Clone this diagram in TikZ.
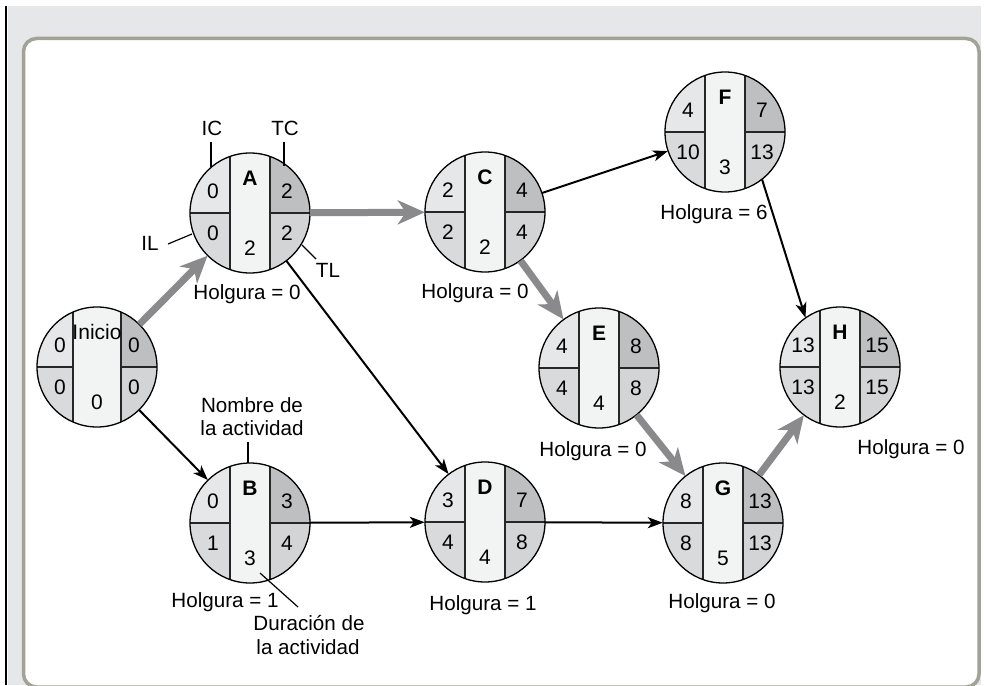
\documentclass[tikz,border=0pt]{standalone}
\usepackage{fontspec}
\setmainfont{Liberation Sans}
\usetikzlibrary{arrows.meta}
\definecolor{bggray}{RGB}{230,231,232}
\definecolor{framecol}{RGB}{162,162,150}
\definecolor{qIC}{RGB}{230,231,232}
\definecolor{qIL}{RGB}{217,218,219}
\definecolor{qTC}{RGB}{190,191,193}
\definecolor{qTL}{RGB}{211,212,213}
\definecolor{qband}{RGB}{242,243,243}
\definecolor{critgray}{RGB}{138,138,140}
\tikzset{
  actcirc/.style={circle, minimum size=120pt, inner sep=0pt, draw=none},
  num/.style={inner sep=0pt, font=\fontsize{21}{25}\selectfont},
  lbl/.style={inner sep=0pt, anchor=base, font=\fontsize{20.6}{24}\selectfont},
  crit/.style={draw=critgray, line width=7pt, -{Stealth[length=27pt,width=24pt,inset=8pt]}},
  norm/.style={draw=black, line width=2pt, -{Stealth[length=15pt,width=11pt,inset=4pt]}},
  divline/.style={draw=black!85, line width=1.2pt},
  leader/.style={draw=black, line width=1.2pt},
}
% #1 name, #2 position, #3 label, #4 IC, #5 TC, #6 IL, #7 TL, #8 duration, #9 half band width
\newcommand\actnode[9]{%
  \node[actcirc] (#1) at (#2) {};
  \begin{scope}[shift={(#2)}]
    \begin{scope}
      \clip (0,0) circle (60pt);
      \fill[qIC] (-60,-60) rectangle (0,0);
      \fill[qIL] (-60,0) rectangle (0,60);
      \fill[qTC] (0,-60) rectangle (60,0);
      \fill[qTL] (0,0) rectangle (60,60);
      \fill[qband] (-#9,-60) rectangle (#9,60);
      \draw[divline] (-#9,-60) -- (-#9,60) (#9,-60) -- (#9,60)
                     (-60,0) -- (-#9,0) (#9,0) -- (60,0);
    \end{scope}
    \draw[line width=1.3pt] (0,0) circle (60pt);
    \node[num] (#1-name) at (0,-35) {#3};
    \node[num] (#1-ic) at (-37,-22) {#4};
    \node[num] (#1-tc) at (37,-22) {#5};
    \node[num] (#1-il) at (-37,20) {#6};
    \node[num] (#1-tl) at (37,20) {#7};
    \node[num] (#1-dur) at (0,35) {#8};
  \end{scope}
}
\begin{document}
\begin{tikzpicture}[x=1pt,y=-1pt]
\useasboundingbox (0,0) rectangle (984,685);
\clip (0,0) rectangle (984,685);
% background
\fill[bggray] (8,6) rectangle (981,685);
\draw[black, line width=2.2pt] (6.2,6) -- (6.2,685);
\draw[framecol, line width=3.5pt, rounded corners=13pt, fill=white] (23.5,38.5) rectangle (979,687);

% activity nodes
\actnode{Inicio}{97,367}{Inicio}{0}{0}{0}{0}{0}{24}
\actnode{A}{250,213}{\textbf{A}}{0}{2}{0}{2}{2}{20}
\actnode{B}{250,523}{\textbf{B}}{0}{3}{1}{4}{3}{20}
\actnode{C}{485,212}{\textbf{C}}{2}{4}{2}{4}{2}{20}
\actnode{D}{485,522}{\textbf{D}}{3}{7}{4}{8}{4}{20}
\actnode{E}{599,368}{\textbf{E}}{4}{8}{4}{8}{4}{20}
\actnode{F}{725,132}{\textbf{F}}{4}{7}{10}{13}{3}{20}
\actnode{G}{723,523}{\textbf{G}}{8}{13}{8}{13}{5}{20}
\actnode{H}{840,367}{\textbf{H}}{13}{15}{13}{15}{2}{20}

% connectors
\draw[norm] (Inicio) -- (B);
\draw[norm] (A) -- (D);
\draw[norm] (B) -- (D);
\draw[norm] (D) -- (G);
\draw[norm] (C) -- (F);
\draw[norm] (F.-52) -- (H.125);
\draw[crit] (Inicio) -- (A);
\draw[crit] (A) -- (C);
\draw[crit] (C) -- (E);
\draw[crit] (E) -- (G);
\draw[crit] (G) -- (H);

% slack labels
\node[lbl] (hA) at (247,299) {Holgura = 0};
\node[lbl] (hC) at (475,298) {Holgura = 0};
\node[lbl] (hF) at (714,219) {Holgura = 6};
\node[lbl] (hE) at (593,456) {Holgura = 0};
\node[lbl] (hH) at (911,454) {Holgura = 0};
\node[lbl] (hB) at (225,607) {Holgura = 1};
\node[lbl] (hD) at (483,610) {Holgura = 1};
\node[lbl] (hG) at (722,608) {Holgura = 0};

% legend annotations
\node[lbl] (IC) at (212,135) {IC};
\node[lbl] (TC) at (285,135) {TC};
\node[lbl] (IL) at (150,250) {IL};
\node[lbl] (TL) at (328,277) {TL};
\node[lbl] (nom1) at (252,412) {Nombre de};
\node[lbl] (nom2) at (252,435) {la actividad};
\node[lbl] (dur1) at (309,630) {Duración de};
\node[lbl] (dur2) at (308,654) {la actividad};

\coordinate (icA) at (211,142);  \coordinate (icB) at (211,167);
\coordinate (tcA) at (284,142);  \coordinate (tcB) at (284,166);
\coordinate (ilA) at (168,244);  \coordinate (ilB) at (192,234);
\coordinate (tlA) at (302,245);  \coordinate (tlB) at (316,259);
\coordinate (nmA) at (248,442);  \coordinate (nmB) at (248,463);
\coordinate (duA) at (260,573);  \coordinate (duB) at (298,607);
\draw[leader] (icA) -- (icB);
\draw[leader] (tcA) -- (tcB);
\draw[leader] (ilA) -- (ilB);
\draw[leader] (tlA) -- (tlB);
\draw[leader] (nmA) -- (nmB);
\draw[leader] (duA) -- (duB);
\end{tikzpicture}
\end{document}
